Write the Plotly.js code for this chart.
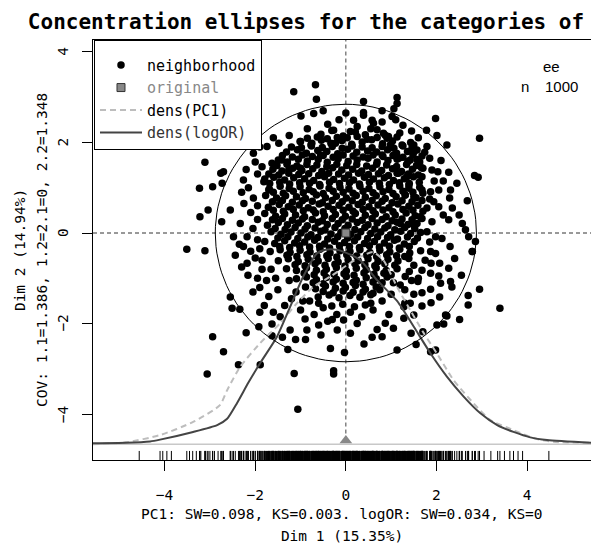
<!DOCTYPE html>
<html><head><meta charset="utf-8">
<script src="https://cdn.plot.ly/plotly-3.0.1.min.js"></script>
<style>html,body{margin:0;padding:0;background:#fff;overflow:hidden}#chart{width:591px;height:544px}</style>
</head><body><div id="chart"></div>
<script>
// ---- data ----
const neighborhood = [
// dense core rows
[-0.55,2.18],[-0.31,2.26],[-0.06,2.14],[0.21,2.23],[0.43,2.17],[0.69,2.28],[0.94,2.13],[1.19,2.21],
[-1.01,2.02],[-0.77,1.95],[-0.54,2.05],[-0.33,1.98],[-0.09,2.04],[0.13,1.96],[0.36,2.01],[0.57,2.06],[0.81,1.97],[1.03,2.03],[1.24,1.94],[1.43,2.0],
[-1.31,1.79],[-1.07,1.84],[-0.87,1.76],[-0.62,1.82],[-0.42,1.8],[-0.18,1.75],[0.04,1.85],[0.24,1.78],[0.48,1.81],[0.68,1.79],[0.92,1.84],[1.12,1.76],[1.36,1.8],[1.57,1.83],
[-1.49,1.61],[-1.29,1.57],[-1.05,1.63],[-0.85,1.59],[-0.61,1.62],[-0.41,1.56],[-0.17,1.64],[0.05,1.58],[0.25,1.61],[0.49,1.65],[0.69,1.57],[0.93,1.6],[1.13,1.63],[1.37,1.58],[1.57,1.62],
[-1.61,1.41],[-1.41,1.37],[-1.17,1.43],[-0.97,1.38],[-0.73,1.42],[-0.53,1.36],[-0.29,1.44],[-0.09,1.39],[0.15,1.41],[0.35,1.37],[0.59,1.43],[0.79,1.38],[1.03,1.42],[1.23,1.36],[1.47,1.41],[1.67,1.44],
[-1.79,1.19],[-1.59,1.23],[-1.35,1.17],[-1.15,1.22],[-0.91,1.2],[-0.71,1.16],[-0.47,1.24],[-0.27,1.18],[-0.03,1.21],[0.17,1.17],[0.41,1.23],[0.61,1.19],[0.85,1.22],[1.05,1.16],[1.29,1.2],[1.49,1.24],
[-1.69,0.97],[-1.45,1.03],[-1.25,0.98],[-1.01,1.02],[-0.81,0.96],[-0.57,1.04],[-0.37,0.99],[-0.13,1.01],[0.07,0.97],[0.31,1.03],[0.51,0.98],[0.75,1.02],[0.95,0.96],[1.19,1.04],[1.39,0.99],[1.63,1.01],
[-1.77,0.83],[-1.53,0.77],[-1.33,0.82],[-1.09,0.8],[-0.89,0.76],[-0.65,0.84],[-0.45,0.78],[-0.21,0.81],[0.01,0.77],[0.23,0.83],[0.43,0.79],[0.67,0.82],[0.87,0.76],[1.11,0.8],[1.31,0.84],[1.55,0.78],
[-1.71,0.57],[-1.47,0.63],[-1.27,0.58],[-1.03,0.62],[-0.83,0.56],[-0.59,0.64],[-0.39,0.59],[-0.15,0.61],[0.07,0.57],[0.27,0.63],[0.51,0.58],[0.71,0.62],[0.95,0.56],[1.15,0.64],[1.39,0.59],[1.59,0.61],
[-1.79,0.43],[-1.55,0.37],[-1.35,0.42],[-1.11,0.4],[-0.91,0.36],[-0.67,0.44],[-0.47,0.38],[-0.23,0.41],[-0.01,0.37],[0.21,0.43],[0.43,0.39],[0.65,0.42],[0.89,0.36],[1.09,0.4],[1.33,0.44],[1.53,0.38],
[-1.73,0.17],[-1.49,0.23],[-1.29,0.18],[-1.05,0.22],[-0.85,0.16],[-0.61,0.24],[-0.41,0.19],[-0.17,0.21],[0.05,0.17],[0.25,0.23],[0.49,0.18],[0.69,0.22],[0.93,0.16],[1.13,0.24],[1.37,0.19],[1.57,0.21],
[-1.65,0.03],[-1.43,-0.03],[-1.21,0.02],[-0.99,0.0],[-0.77,-0.04],[-0.55,0.04],[-0.33,-0.02],[-0.11,0.01],[0.11,-0.03],[0.33,0.03],[0.55,-0.01],[0.77,0.02],[0.99,-0.04],[1.21,0.04],[1.43,-0.01],[1.65,0.01],
[-1.79,-0.19],[-1.57,-0.23],[-1.35,-0.17],[-1.13,-0.22],[-0.91,-0.2],[-0.69,-0.16],[-0.47,-0.24],[-0.25,-0.18],[-0.03,-0.21],[0.19,-0.17],[0.41,-0.23],[0.63,-0.19],[0.85,-0.22],[1.07,-0.16],[1.29,-0.24],[1.51,-0.19],
[-1.67,-0.41],[-1.45,-0.37],[-1.23,-0.43],[-1.01,-0.38],[-0.79,-0.42],[-0.57,-0.36],[-0.35,-0.44],[-0.13,-0.39],[0.09,-0.41],[0.31,-0.37],[0.53,-0.43],[0.75,-0.38],[0.97,-0.42],[1.19,-0.36],[1.41,-0.44],[1.65,-0.39],
[-1.49,-0.61],[-1.27,-0.57],[-1.05,-0.63],[-0.83,-0.58],[-0.61,-0.62],[-0.39,-0.56],[-0.17,-0.64],[0.05,-0.59],[0.27,-0.61],[0.49,-0.57],[0.71,-0.63],[0.93,-0.58],[1.15,-0.62],[1.39,-0.56],
[-1.31,-0.79],[-1.09,-0.83],[-0.87,-0.77],[-0.65,-0.82],[-0.43,-0.8],[-0.21,-0.76],[0.01,-0.84],[0.23,-0.78],[0.45,-0.81],[0.67,-0.77],[0.89,-0.83],[1.13,-0.79],
[-1.09,-1.01],[-0.87,-0.97],[-0.65,-1.03],[-0.43,-0.98],[-0.21,-1.02],[0.01,-0.96],[0.23,-1.04],[0.45,-0.99],[0.67,-1.01],[0.91,-0.97],
[-0.89,-1.19],[-0.67,-1.23],[-0.45,-1.17],[-0.23,-1.22],[-0.01,-1.2],[0.21,-1.16],[0.43,-1.24],[0.67,-1.19],
[-0.61,-1.41],[-0.37,-1.37],[-0.15,-1.43],[0.09,-1.38],[0.31,-1.42],[0.55,-1.36],
[-0.31,-1.61],[-0.07,-1.57],[0.19,-1.63],[0.43,-1.59],
// interleaved core rows
[-0.85,2.09],[-0.63,2.12],[-0.41,2.08],[-0.19,2.11],[0.03,2.1],[0.25,2.13],[0.47,2.07],[0.69,2.11],[0.91,2.09],[1.13,2.12],
[-1.2,1.9],[-0.98,1.88],[-0.76,1.92],[-0.52,1.89],[-0.3,1.91],[-0.08,1.87],[0.14,1.92],[0.36,1.9],[0.58,1.88],[0.8,1.91],[1.02,1.89],[1.26,1.92],[1.46,1.88],
[-1.4,1.71],[-1.18,1.68],[-0.96,1.72],[-0.74,1.69],[-0.5,1.71],[-0.28,1.67],[-0.06,1.72],[0.16,1.7],[0.38,1.68],[0.6,1.72],[0.82,1.69],[1.04,1.71],[1.26,1.67],[1.48,1.72],[1.68,1.7],
[-1.52,1.49],[-1.3,1.52],[-1.08,1.48],[-0.86,1.51],[-0.64,1.5],[-0.42,1.47],[-0.2,1.52],[0.02,1.49],[0.24,1.51],[0.46,1.48],[0.68,1.52],[0.9,1.5],[1.12,1.47],[1.34,1.51],[1.56,1.49],
[-1.7,1.3],[-1.48,1.28],[-1.26,1.32],[-1.04,1.29],[-0.82,1.31],[-0.6,1.27],[-0.38,1.32],[-0.16,1.3],[0.06,1.28],[0.28,1.32],[0.5,1.29],[0.72,1.31],[0.94,1.27],[1.16,1.32],[1.38,1.3],[1.6,1.28],
[-1.68,1.09],[-1.46,1.12],[-1.24,1.08],[-1.02,1.11],[-0.8,1.1],[-0.58,1.07],[-0.36,1.12],[-0.14,1.09],[0.08,1.11],[0.3,1.08],[0.52,1.12],[0.74,1.1],[0.96,1.07],[1.18,1.11],[1.4,1.09],[1.62,1.12],
[-1.6,0.9],[-1.38,0.88],[-1.16,0.92],[-0.94,0.89],[-0.72,0.91],[-0.5,0.87],[-0.28,0.92],[-0.06,0.9],[0.16,0.88],[0.38,0.92],[0.6,0.89],[0.82,0.91],[1.04,0.87],[1.26,0.92],[1.48,0.9],[1.7,0.88],
[-1.62,0.69],[-1.4,0.72],[-1.18,0.68],[-0.96,0.71],[-0.74,0.7],[-0.52,0.67],[-0.3,0.72],[-0.08,0.69],[0.14,0.71],[0.36,0.68],[0.58,0.72],[0.8,0.7],[1.02,0.67],[1.24,0.71],[1.46,0.69],[1.68,0.72],
[-1.6,0.5],[-1.38,0.48],[-1.16,0.52],[-0.94,0.49],[-0.72,0.51],[-0.5,0.47],[-0.28,0.52],[-0.06,0.5],[0.16,0.48],[0.38,0.52],[0.6,0.49],[0.82,0.51],[1.04,0.47],[1.26,0.52],[1.48,0.5],[1.7,0.48],
[-1.62,0.29],[-1.4,0.32],[-1.18,0.28],[-0.96,0.31],[-0.74,0.3],[-0.52,0.27],[-0.3,0.32],[-0.08,0.29],[0.14,0.31],[0.36,0.28],[0.58,0.32],[0.8,0.3],[1.02,0.27],[1.24,0.31],[1.46,0.29],[1.68,0.32],
[-1.56,0.1],[-1.34,0.08],[-1.12,0.12],[-0.9,0.09],[-0.68,0.11],[-0.46,0.07],[-0.24,0.12],[-0.02,0.1],[0.2,0.08],[0.42,0.12],[0.64,0.09],[0.86,0.11],[1.08,0.07],[1.3,0.12],[1.52,0.1],
[-1.5,-0.11],[-1.28,-0.08],[-1.06,-0.12],[-0.84,-0.09],[-0.62,-0.1],[-0.4,-0.13],[-0.18,-0.08],[0.04,-0.11],[0.26,-0.09],[0.48,-0.12],[0.7,-0.08],[0.92,-0.1],[1.14,-0.13],[1.36,-0.09],[1.58,-0.11],
[-1.46,-0.3],[-1.24,-0.32],[-1.02,-0.28],[-0.8,-0.31],[-0.58,-0.29],[-0.36,-0.33],[-0.14,-0.28],[0.08,-0.3],[0.3,-0.32],[0.52,-0.28],[0.74,-0.31],[0.96,-0.29],[1.18,-0.33],[1.4,-0.3],
[-1.3,-0.49],[-1.08,-0.52],[-0.86,-0.48],[-0.64,-0.51],[-0.42,-0.5],[-0.2,-0.53],[0.02,-0.48],[0.24,-0.51],[0.46,-0.49],[0.68,-0.52],[0.9,-0.48],[1.12,-0.5],[1.3,-0.52],
[-1.12,-0.7],[-0.9,-0.72],[-0.68,-0.68],[-0.46,-0.71],[-0.24,-0.69],[-0.02,-0.73],[0.2,-0.68],[0.42,-0.7],[0.64,-0.72],[0.86,-0.68],[1.08,-0.71],
[-0.92,-0.89],[-0.7,-0.92],[-0.48,-0.88],[-0.26,-0.91],[-0.04,-0.9],[0.18,-0.93],[0.4,-0.88],[0.62,-0.91],[0.84,-0.89],[1.0,-0.92],
[-0.72,-1.1],[-0.5,-1.12],[-0.28,-1.08],[-0.06,-1.11],[0.16,-1.09],[0.38,-1.13],[0.6,-1.08],[0.8,-1.1],
[-0.5,-1.29],[-0.28,-1.32],[-0.06,-1.28],[0.16,-1.31],[0.38,-1.3],[0.6,-1.33],
// mid-density ring
[1.85,1.65],[2.1,1.6],[1.95,1.15],[2.15,1.15],[2.45,1.1],[1.85,0.75],[2.15,0.4],[1.9,0.25],[2.35,0.55],[2.5,0.4],[1.85,-0.2],[2.3,-0.3],[1.75,-0.6],[2.05,-0.95],
[-1.95,1.3],[-2.2,1.4],[-2.15,1.0],[-1.95,0.6],[-2.25,0.65],[-2.05,0.1],[-1.95,-0.15],[-2.35,-0.25],[-2.1,-0.4],[-1.85,-0.6],[-2.3,-0.75],[-1.65,-0.8],[-1.55,-1.0],[-2.05,-1.3],[-1.8,-1.6],[-1.6,-1.75],
[-0.4,2.4],[-0.15,2.5],[0.25,2.35],[0.55,2.3],[0.8,2.45],[1.1,2.5],[1.45,2.25],[1.6,2.1],[-0.85,2.3],[-1.25,2.15],[-0.5,2.7],[0.0,2.65],[0.8,2.7],
[-1.25,-1.05],[-1.1,-1.3],[-0.95,-1.5],[-0.6,-1.55],[-0.2,-1.8],[0.1,-1.75],[0.55,-1.55],[0.75,-1.25],[1.05,-1.1],[1.3,-1.25],[1.45,-1.05],[0.25,-2.0],[-0.55,-2.25],[0.4,-2.45],[1.05,-2.1],[-1.4,-2.3],[-1.9,-1.75],[-2.2,-2.2],
// scattered outer points
[-3.11,1.56],[-2.76,1.32],[-3.23,0.99],[-2.94,1.02],[-2.73,1.10],[-3.04,0.51],[-3.22,0.36],[-2.74,0.25],[-3.51,-0.36],[-3.11,-0.39],[-2.94,-2.29],[-2.70,-2.62],[-3.06,-3.11],
[-2.37,-2.91],[-1.89,-2.91],[-1.14,-3.10],[-1.06,-3.89],[-0.27,-3.11],[-0.27,-3.04],[-0.34,-2.55],[-0.03,-2.64],[-1.28,-2.57],[-2.55,-1.41],[-2.51,-1.66],[-2.34,-1.68],[-2.16,-0.93],[-1.92,-2.07],[-1.63,-2.01],[-1.63,-2.27],[-1.23,-2.14],[-1.11,-2.35],[-0.89,-2.35],[-0.86,-2.14],[-0.60,-2.03],[-0.19,-2.14],[0.10,-2.21],[-0.05,-1.92],[-0.30,-1.91],[0.58,-2.30],[0.80,-2.29],[0.69,-2.13],[0.87,-1.99],[1.13,-2.58],[1.55,-2.46],[1.70,-2.18],[1.98,-2.58],[2.01,-2.03],[2.16,-2.01],[2.20,-1.81],
[3.40,-1.66],[2.95,-1.24],[2.70,-1.38],[2.70,-1.59],[2.51,-1.91],[2.23,-1.83],[1.87,-2.62],[1.44,-2.21],[1.28,-1.88],[1.50,-1.81],[1.68,-1.61],[1.88,-1.54],[2.07,-1.41],[1.68,-1.32],[1.87,-1.24],[2.09,-1.11],[2.31,-1.07],[2.34,-1.19],[2.55,-0.93],[2.27,-0.78],[2.07,-0.67],[1.88,-0.67],[1.98,-0.45],[2.40,-0.56],[2.79,-0.41],[1.59,-1.07],[1.68,-0.82],[1.87,-0.89],[1.50,-0.71],[1.31,-0.96],[1.42,-1.55],[1.28,-1.63],
[1.13,2.99],[1.13,2.86],[1.06,2.74],[1.98,2.53],[1.26,2.38],[1.78,2.27],[2.01,2.15],[2.95,2.09],[2.23,1.94],[0.87,2.16],[1.50,1.94],[1.50,1.79],[1.79,1.91],[1.74,1.78],[0.98,1.94],[1.17,1.65],[1.42,1.61],[1.63,1.57],[1.70,1.43],[1.90,1.39],[2.03,1.35],[2.27,1.34],[2.84,1.27],[2.92,1.23],[1.35,1.24],[1.68,1.24],[1.13,1.32],[1.39,1.06],[1.68,0.95],[1.87,0.91],[2.05,0.95],[2.31,0.95],[2.29,0.77],[2.68,0.71],[1.94,0.69],[1.79,0.55],[2.05,0.58],[1.50,0.80],[1.31,0.84],[1.64,0.36],[2.27,0.29],[2.57,0.21],[2.64,0.07],[1.79,0.03],[1.98,-0.08],[2.12,-0.12],[2.71,-0.08],[2.86,-0.19],[2.79,-0.41],[1.50,0.18],[1.20,0.21],[1.87,-0.41],
[-1.15,3.12],[-0.67,3.27],[-0.65,2.95],[0.39,2.90],[0.39,2.66],[-0.99,2.58],[-0.71,2.64],[0.17,2.49],[0.58,2.49],
[-2.70,1.35],[-2.26,1.17],[-2.55,0.51],[-2.33,0.21],[-2.48,-0.08],[-2.18,-0.08],[-2.26,-0.30],[-2.44,-0.49],[-2.18,-0.67],[-2.04,0.77],[-2.00,1.57],[-1.74,1.91],[-1.48,1.98],[-2.04,1.76],[-1.85,1.46],[-1.63,1.54],[-1.41,1.61],[-1.26,1.39],[-1.00,1.43],[-0.75,1.98],[-1.00,2.02],[-0.56,1.72],[-0.23,1.98],[-0.08,2.05],[-1.81,1.13],[-1.70,0.95],[-0.27,2.27],[0.10,2.24],[0.39,2.60],[0.61,2.42],[1.02,2.57],[0.83,2.20],[1.06,1.87],[0.80,1.72],
[-1.95,0.3],[-2.1,0.45],[-1.9,-0.35],[-2.0,-0.55],[-1.85,-0.8],[-1.75,-1.05],[-2.3,0.9],[-1.9,1.9],[-1.6,2.1],
[-1.9,-1.2],[-1.7,-1.4],[-1.5,-1.25],[-1.35,-1.6],[-1.2,-1.45],[-1.0,-1.7],[-0.8,-1.5],[-0.7,-1.8],[-0.5,-1.65],[-1.45,-1.85],[-0.9,-1.9],[-0.4,-1.95],[0.35,-1.85],[0.6,-1.7],[0.8,-1.5],[1.0,-1.35],[1.2,-1.15],[0.95,-1.8],[1.3,-1.55],[1.5,-1.35],[1.6,-1.0],[1.4,-0.85],[-1.95,-1.0]
];
const originalX = [0];
const originalY = [0];
const densPC1X   = [-5.58,-4.85,-4.10,-3.37,-2.78,-2.62,-2.33,-1.89,-1.45,-1.08,-0.72,-0.34,0.10,0.39,0.60,0.83,1.13,1.42,1.72,2.01,2.38,2.82,3.19,3.70,4.15,4.58,5.41];
const densPC1Y   = [-4.66,-4.62,-4.46,-4.17,-3.80,-3.47,-2.95,-2.43,-1.99,-1.55,-1.19,-0.96,-0.66,-0.49,-0.42,-0.60,-1.19,-1.70,-2.21,-2.66,-3.25,-3.76,-4.13,-4.35,-4.53,-4.61,-4.63];
const densLogORX = [-5.58,-4.85,-4.32,-4.10,-3.37,-2.84,-2.62,-2.40,-2.15,-1.89,-1.52,-1.23,-0.94,-0.64,-0.45,-0.20,-0.06,0.32,0.69,1.13,1.50,1.87,2.23,2.60,2.97,3.34,3.70,4.07,4.44,5.41];
const densLogORY = [-4.64,-4.63,-4.60,-4.56,-4.39,-4.24,-4.10,-3.75,-3.30,-2.87,-2.29,-1.63,-0.96,-0.45,-0.37,-0.37,-0.41,-0.60,-1.04,-1.50,-2.07,-2.66,-3.17,-3.61,-3.98,-4.24,-4.39,-4.51,-4.57,-4.63];
const rugExtraX  = [-4.56,-4.10,-4.04,-3.95,-3.85,-3.45,-3.38,-3.30,-3.2,-3.1,-3.0,-2.9,-2.82,3.05,3.20,3.35,3.50,3.62,3.70,3.80,3.90,4.48];
const covariance = [1.386, 0, 1.348];   // 1.1, 1.2=2.1, 2.2
const chi2Level  = 5.991;               // 95% concentration
const densBaseline = -4.66;
const xTickVals = [-4,-2,0,2,4];
const yTickVals = [-4,-2,0,2,4];
const nObs = 1000;

// ---- build traces ----
const px = neighborhood.map(p=>p[0]), py = neighborhood.map(p=>p[1]);
const ex=[], ey=[];
const a = Math.sqrt(chi2Level*covariance[0]), b = Math.sqrt(chi2Level*covariance[2]);
for (let i=0;i<=120;i++){ const t=2*Math.PI*i/120; ex.push(a*Math.cos(t)); ey.push(b*Math.sin(t)); }
const rugX=[], rugY=[];
px.concat(rugExtraX).forEach(v=>{ rugX.push(v,v,null); rugY.push(-4.81,-5.01,null); });
const fmt = v => v<0 ? '\u2212'+(-v) : String(v);

const mono = 'DejaVu Sans Mono';
const traces = [
 {type:'scatter', mode:'markers', name:'neighborhood', x:px, y:py,
  marker:{color:'black', size:7.5, line:{width:0}}},
 {type:'scatter', mode:'markers', name:'<span style="color:#888">original</span>', x:originalX, y:originalY,
  marker:{color:'#888', size:8, symbol:'square', line:{color:'#333', width:1}}},
 {type:'scatter', mode:'lines', name:'dens(PC1)', x:densPC1X, y:densPC1Y,
  line:{color:'#bdbdbd', width:2, dash:'6px,4px', shape:'spline', smoothing:0.6}},
 {type:'scatter', mode:'lines', name:'<span style="color:#333">dens(logOR)</span>', x:densLogORX, y:densLogORY,
  line:{color:'#444', width:2, shape:'spline', smoothing:0.6}},
 {type:'scatter', mode:'lines', showlegend:false, x:ex, y:ey, line:{color:'black', width:1}, hoverinfo:'skip'},
 {type:'scatter', mode:'lines', showlegend:false, x:rugX, y:rugY, line:{color:'black', width:1}, hoverinfo:'skip'},
 {type:'scatter', mode:'markers', showlegend:false, x:originalX, y:originalX.map(()=>-4.58),
  marker:{color:'#888', size:11, symbol:'triangle-up'}, cliponaxis:false}
];

const annotations = [
  {text:'PC1: SW=0.098, KS=0.003. logOR: SW=0.034, KS=0', xref:'paper', yref:'paper', x:0.5, y:(544-514-84)/420, yanchor:'middle', xanchor:'center', showarrow:false, font:{family:mono, size:14.5}},
  {text:'COV: 1.1=1.386, 1.2=2.1=0, 2.2=1.348', xref:'paper', yref:'paper', x:(42-93)/498, y:0.5, textangle:-90, xanchor:'center', yanchor:'middle', showarrow:false, font:{family:mono, size:14.5}},
  {text:'ee', xref:'paper', yref:'paper', x:(551-93)/498, y:(544-84-66.7)/420, xanchor:'center', yanchor:'middle', showarrow:false, font:{family:'Liberation Sans', size:15}},
  {text:'n', xref:'paper', yref:'paper', x:(525-93)/498, y:(544-84-86)/420, xanchor:'center', yanchor:'middle', showarrow:false, font:{family:'Liberation Sans', size:15}},
  {text:String(nObs), xref:'paper', yref:'paper', x:(561-93)/498, y:(544-84-86)/420, xanchor:'center', yanchor:'middle', showarrow:false, font:{family:'Liberation Sans', size:15}}
];
// rotated y tick labels, placed on the y axis scale
yTickVals.forEach(v => annotations.push({text:fmt(v), xref:'paper', yref:'y', x:(63-93)/498, y:v,
  textangle:-90, xanchor:'center', yanchor:'middle', showarrow:false, font:{family:mono, size:14.5}}));

const layout = {
 width:591, height:544, margin:{l:93, r:0, t:40, b:84},
 paper_bgcolor:'white', plot_bgcolor:'white', showlegend:true,
 font:{family:mono, size:14.5, color:'black'},
 title:{text:'<b>Concentration ellipses for the categories of</b>', font:{family:mono, size:21, color:'black'},
  x:306/591, xanchor:'center', xref:'container', y:1-22/544, yanchor:'middle', yref:'container'},
 xaxis:{range:[-5.58,5.41], tickvals:xTickVals, ticktext:xTickVals.map(fmt),
  ticks:'outside', ticklen:10, tickcolor:'black', showgrid:false, zeroline:false,
  showline:true, linecolor:'black', linewidth:1, mirror:true, ticklabelstandoff:12,
  tickfont:{family:mono, size:14.5},
  title:{text:'Dim 1 (15.35%)', font:{family:mono, size:14.5}, standoff:28}},
 yaxis:{range:[-5.01,4.26], tickvals:yTickVals, showticklabels:false,
  ticks:'outside', ticklen:10, tickcolor:'black', showgrid:false, zeroline:false,
  showline:true, linecolor:'black', linewidth:1,
  title:{text:'Dim 2 (14.94%)', font:{family:mono, size:14.5}, standoff:52}},
 legend:{x:0.002, y:1, xanchor:'left', yanchor:'top', bgcolor:'white', bordercolor:'black', borderwidth:1,
  font:{family:mono, size:15, color:'black'}, itemwidth:42, tracegroupgap:0,
  title:{text:' ', font:{size:6}}},
 shapes:[
  {type:'line', layer:'below', xref:'x', yref:'y', x0:0, x1:0, y0:-4.58, y1:4.26, line:{color:'#444', width:1, dash:'4px,3px'}},
  {type:'line', layer:'below', xref:'paper', yref:'y', x0:0, x1:1, y0:0, y1:0, line:{color:'#333', width:1, dash:'4px,3px'}},
  {type:'line', layer:'below', xref:'paper', yref:'y', x0:0, x1:1, y0:densBaseline, y1:densBaseline, line:{color:'#c8c8c8', width:1.5}}
 ],
 annotations: annotations
};
Plotly.newPlot('chart', traces, layout, {displayModeBar:false, staticPlot:true});
</script></body></html>
